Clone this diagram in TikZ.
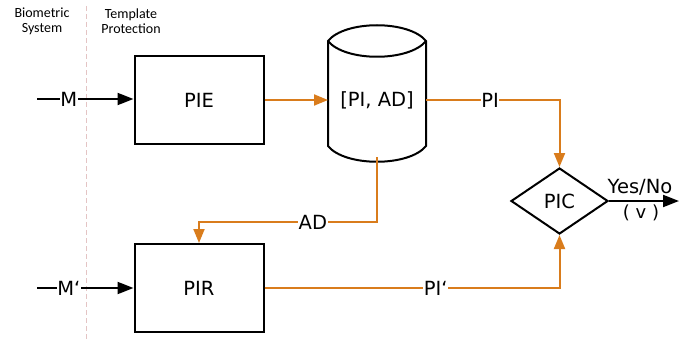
\documentclass[tikz,border=0pt]{standalone}
\usepackage{fontspec}
\setmainfont{DejaVu Sans}
\newfontfamily\smallfont{Carlito}
\usetikzlibrary{shapes.geometric,arrows.meta}
\definecolor{flow}{RGB}{217,124,28}
\definecolor{sep}{RGB}{228,196,196}
\tikzset{
  mainfont/.style={font=\fontsize{19.5}{22}\selectfont},
  box/.style={draw=black,line width=2pt,minimum width=129pt,minimum height=88pt,mainfont},
  oline/.style={draw=flow,line width=2pt},
  oarrow/.style={oline,-{Triangle[width=11pt,length=14pt]}},
  barrow/.style={draw=black,line width=2pt,-{Triangle[width=12pt,length=16pt]}},
  lbl/.style={fill=white,inner sep=0.5pt,mainfont},
  small/.style={font=\smallfont\fontsize{14}{15}\selectfont,align=center}
}
\begin{document}
\begin{tikzpicture}[x=1pt,y=-1pt]
\useasboundingbox (0,0) rectangle (679,342);
% separator
\draw[sep,line width=1pt,dash pattern=on 5pt off 3pt] (86,6) -- (86,342);
\node[small] (bs) at (42,21) {Biometric\\System};
\node[small] (tp) at (131,21) {Template\\Protection};
% boxes
\node[box] (pie) at (199,100) {PIE};
\node[box] (pir) at (199,288) {PIR};
% cylinder
\path[draw=black,line width=2pt,fill=white]
  (328,41) .. controls (345,20) and (409,20) .. (426,41)
  -- (426,146) .. controls (409,167) and (345,167) .. (328,146) -- cycle;
\draw[black,line width=2pt] (328,41) .. controls (345,62) and (409,62) .. (426,41);
\node[mainfont] (db) at (377,100) {[PI, AD]};
\coordinate (dbl) at (328,100);
\coordinate (dbr) at (426,100);
\coordinate (dbb) at (377,157);
% diamond
\node[diamond,draw=black,line width=2pt,minimum width=97pt,minimum height=66pt,inner sep=0pt,mainfont] (pic) at (559.5,201) {PIC};
% inputs
\coordinate (min) at (37,99);
\coordinate (mpin) at (37,288);
\draw[barrow] (min) -- node[lbl,pos=0.33] (m) {M} (pie.west |- min);
\draw[barrow] (mpin) -- node[lbl,pos=0.33] (mp) {M‘} (pir.west);
% orange flows
\draw[oarrow] (pie.east |- dbl) -- (dbl);
\draw[oarrow] (dbr) -- node[lbl,pos=0.48] (pi) {PI} (pic.north |- dbr) -- (pic.north);
\draw[oarrow] (dbb) -- (377,222) -- node[lbl,pos=0.36] (ad) {AD} (pir.north |- 0,222) -- (pir.north);
\draw[oarrow] (pir.east) -- node[lbl,pos=0.58] (pip) {PI‘} (pic.south |- pir.east) -- (pic.south);
% output
\coordinate (out) at (679,201);
\draw[barrow] (pic.east) -- (out);
\node[font=\fontsize{19.5}{22}\selectfont] (yn) at (640,187) {Yes/No};
\node[font=\fontsize{18}{20}\selectfont] (v) at (641,213) {( v )};
\end{tikzpicture}
\end{document}
